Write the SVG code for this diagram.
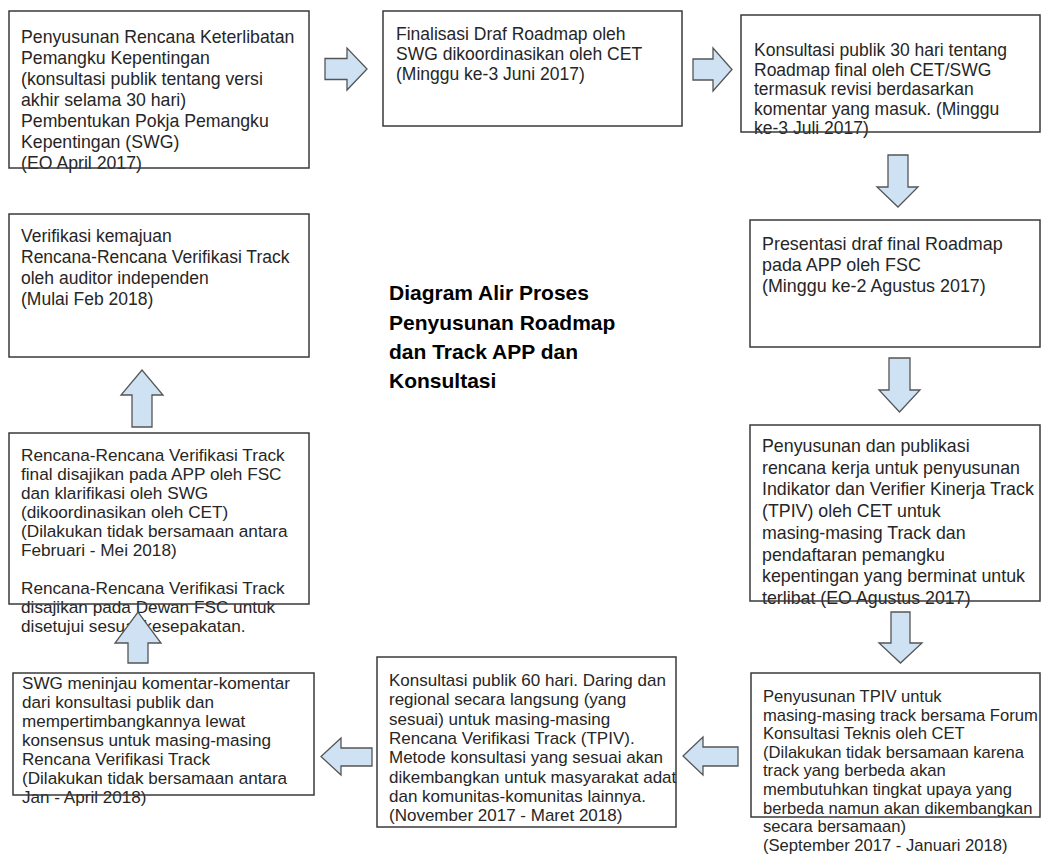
<svg xmlns="http://www.w3.org/2000/svg" width="1042" height="856" viewBox="0 0 1042 856">
<style>
.box{fill:none;stroke:#3a3a3a;stroke-width:1.5}
.t{font-family:"Liberation Sans",Arial,sans-serif;font-size:17.5px;fill:#262626}
.title{font-family:"Liberation Sans",Arial,sans-serif;font-size:21px;font-weight:bold;fill:#000}
.arr{fill:#cfe2f3;stroke:#555;stroke-width:1.3;stroke-linejoin:miter}
</style>
<rect width="1042" height="856" fill="#fff"/>
<g id="title">
<text class="title" x="389" y="300">Diagram Alir Proses</text>
<text class="title" x="389" y="329.5">Penyusunan Roadmap</text>
<text class="title" x="389" y="359">dan Track APP dan</text>
<text class="title" x="389" y="388">Konsultasi</text>
</g>
<g id="n1">
<text class="t" style="font-size:17.7px"><tspan x="21" y="43">Penyusunan Rencana Keterlibatan</tspan><tspan x="21" y="64">Pemangku Kepentingan</tspan><tspan x="21" y="85">(konsultasi publik tentang versi</tspan><tspan x="21" y="106">akhir selama 30 hari)</tspan><tspan x="21" y="127">Pembentukan Pokja Pemangku</tspan><tspan x="21" y="148">Kepentingan (SWG)</tspan><tspan x="21" y="169">(EO April 2017)</tspan></text>
<rect class="box" x="9" y="11" width="300" height="157"/>
</g>
<g id="n2">
<text class="t"><tspan x="396" y="39.5">Finalisasi Draf Roadmap oleh</tspan><tspan x="396" y="59.5">SWG dikoordinasikan oleh CET</tspan><tspan x="396" y="79.5">(Minggu ke-3 Juni 2017)</tspan></text>
<rect class="box" x="383" y="11" width="299" height="115"/>
</g>
<g id="n3">
<text class="t"><tspan x="754" y="56">Konsultasi publik 30 hari tentang</tspan><tspan x="754" y="75.5">Roadmap final oleh CET/SWG</tspan><tspan x="754" y="95">termasuk revisi berdasarkan</tspan><tspan x="754" y="114.5">komentar yang masuk. (Minggu</tspan><tspan x="754" y="134">ke-3 Juli 2017)</tspan></text>
<rect class="box" x="741" y="15" width="299" height="117"/>
</g>
<g id="n4">
<text class="t" style="font-size:17.9px"><tspan x="762" y="250">Presentasi draf final Roadmap</tspan><tspan x="762" y="271">pada APP oleh FSC</tspan><tspan x="762" y="292">(Minggu ke-2 Agustus 2017)</tspan></text>
<rect class="box" x="750" y="220" width="290" height="127"/>
</g>
<g id="n5">
<text class="t" style="font-size:17.8px"><tspan x="762" y="452">Penyusunan dan publikasi</tspan><tspan x="762" y="473.7">rencana kerja untuk penyusunan</tspan><tspan x="762" y="495.4">Indikator dan Verifier Kinerja Track</tspan><tspan x="762" y="517.1">(TPIV) oleh CET untuk</tspan><tspan x="762" y="538.8">masing-masing Track dan</tspan><tspan x="762" y="560.5">pendaftaran pemangku</tspan><tspan x="762" y="582.2">kepentingan yang berminat untuk</tspan><tspan x="762" y="603.9">terlibat (EO Agustus 2017)</tspan></text>
<rect class="box" x="750" y="425" width="290" height="176"/>
</g>
<g id="n6">
<text class="t" style="font-size:16.6px"><tspan x="763" y="702">Penyusunan TPIV untuk</tspan><tspan x="763" y="720.6">masing-masing track bersama Forum</tspan><tspan x="763" y="739.2">Konsultasi Teknis oleh CET</tspan><tspan x="763" y="757.8">(Dilakukan tidak bersamaan karena</tspan><tspan x="763" y="776.4">track yang berbeda akan</tspan><tspan x="763" y="795">membutuhkan tingkat upaya yang</tspan><tspan x="763" y="813.6">berbeda namun akan dikembangkan</tspan><tspan x="763" y="832.2">secara bersamaan)</tspan><tspan x="763" y="850.8">(September 2017 - Januari 2018)</tspan></text>
<rect class="box" x="751" y="673" width="289" height="144"/>
</g>
<g id="n7">
<text class="t" style="font-size:17px"><tspan x="389" y="686">Konsultasi publik 60 hari. Daring dan</tspan><tspan x="389" y="705.3">regional secara langsung (yang</tspan><tspan x="389" y="724.6">sesuai) untuk masing-masing</tspan><tspan x="389" y="743.9">Rencana Verifikasi Track (TPIV).</tspan><tspan x="389" y="763.2">Metode konsultasi yang sesuai akan</tspan><tspan x="389" y="782.5">dikembangkan untuk masyarakat adat</tspan><tspan x="389" y="801.8">dan komunitas-komunitas lainnya.</tspan><tspan x="389" y="821.1">(November 2017 - Maret 2018)</tspan></text>
<rect class="box" x="377" y="657" width="299" height="170"/>
</g>
<g id="n8">
<text class="t" style="font-size:17.1px"><tspan x="22" y="689">SWG meninjau komentar-komentar</tspan><tspan x="22" y="708">dari konsultasi publik dan</tspan><tspan x="22" y="727">mempertimbangkannya lewat</tspan><tspan x="22" y="746">konsensus untuk masing-masing</tspan><tspan x="22" y="765">Rencana Verifikasi Track</tspan><tspan x="22" y="784">(Dilakukan tidak bersamaan antara</tspan><tspan x="22" y="803">Jan - April 2018)</tspan></text>
<rect class="box" x="13" y="673" width="301" height="122"/>
</g>
<g id="n9">
<text class="t" style="font-size:17.2px"><tspan x="21" y="461">Rencana-Rencana Verifikasi Track</tspan><tspan x="21" y="480">final disajikan pada APP oleh FSC</tspan><tspan x="21" y="499">dan klarifikasi oleh SWG</tspan><tspan x="21" y="518">(dikoordinasikan oleh CET)</tspan><tspan x="21" y="537">(Dilakukan tidak bersamaan antara</tspan><tspan x="21" y="556">Februari - Mei 2018)</tspan><tspan x="21" y="594">Rencana-Rencana Verifikasi Track</tspan><tspan x="21" y="613">disajikan pada Dewan FSC untuk</tspan><tspan x="21" y="632">disetujui sesuai kesepakatan.</tspan></text>
<rect class="box" x="9" y="433" width="300" height="171"/>
</g>
<g id="n10">
<text class="t"><tspan x="21" y="242">Verifikasi kemajuan</tspan><tspan x="21" y="263">Rencana-Rencana Verifikasi Track</tspan><tspan x="21" y="284">oleh auditor independen</tspan><tspan x="21" y="305">(Mulai Feb 2018)</tspan></text>
<rect class="box" x="9" y="214" width="300" height="143"/>
</g>
<g id="connectors">
<polygon class="arr" points="325,58.5 347,58.5 347,48 367,69 347,90 347,79.5 325,79.5"/>
<polygon class="arr" points="693,59 713,59 713,48 732,69.5 713,91 713,80 693,80"/>
<polygon class="arr" points="888,155 908,155 908,187 918,187 898,207 877,187 888,187"/>
<polygon class="arr" points="889,358 910,358 910,390 920,390 899.5,412 879,390 889,390"/>
<polygon class="arr" points="891,612 910,612 910,643 922,643 900.5,663 879,643 891,643"/>
<polygon class="arr" points="738,747 703,747 703,737 683,756 703,775 703,766 738,766"/>
<polygon class="arr" points="372,748 341,748 341,738 321,756.5 341,775 341,766 372,766"/>
<polygon class="arr" points="132,427 132,395 121,395 142,370 163,395 152,395 152,427"/>
<polygon class="arr" points="128,663 128,643 115,643 138,612 161,643 148,643 148,663"/>
</g>
</svg>
